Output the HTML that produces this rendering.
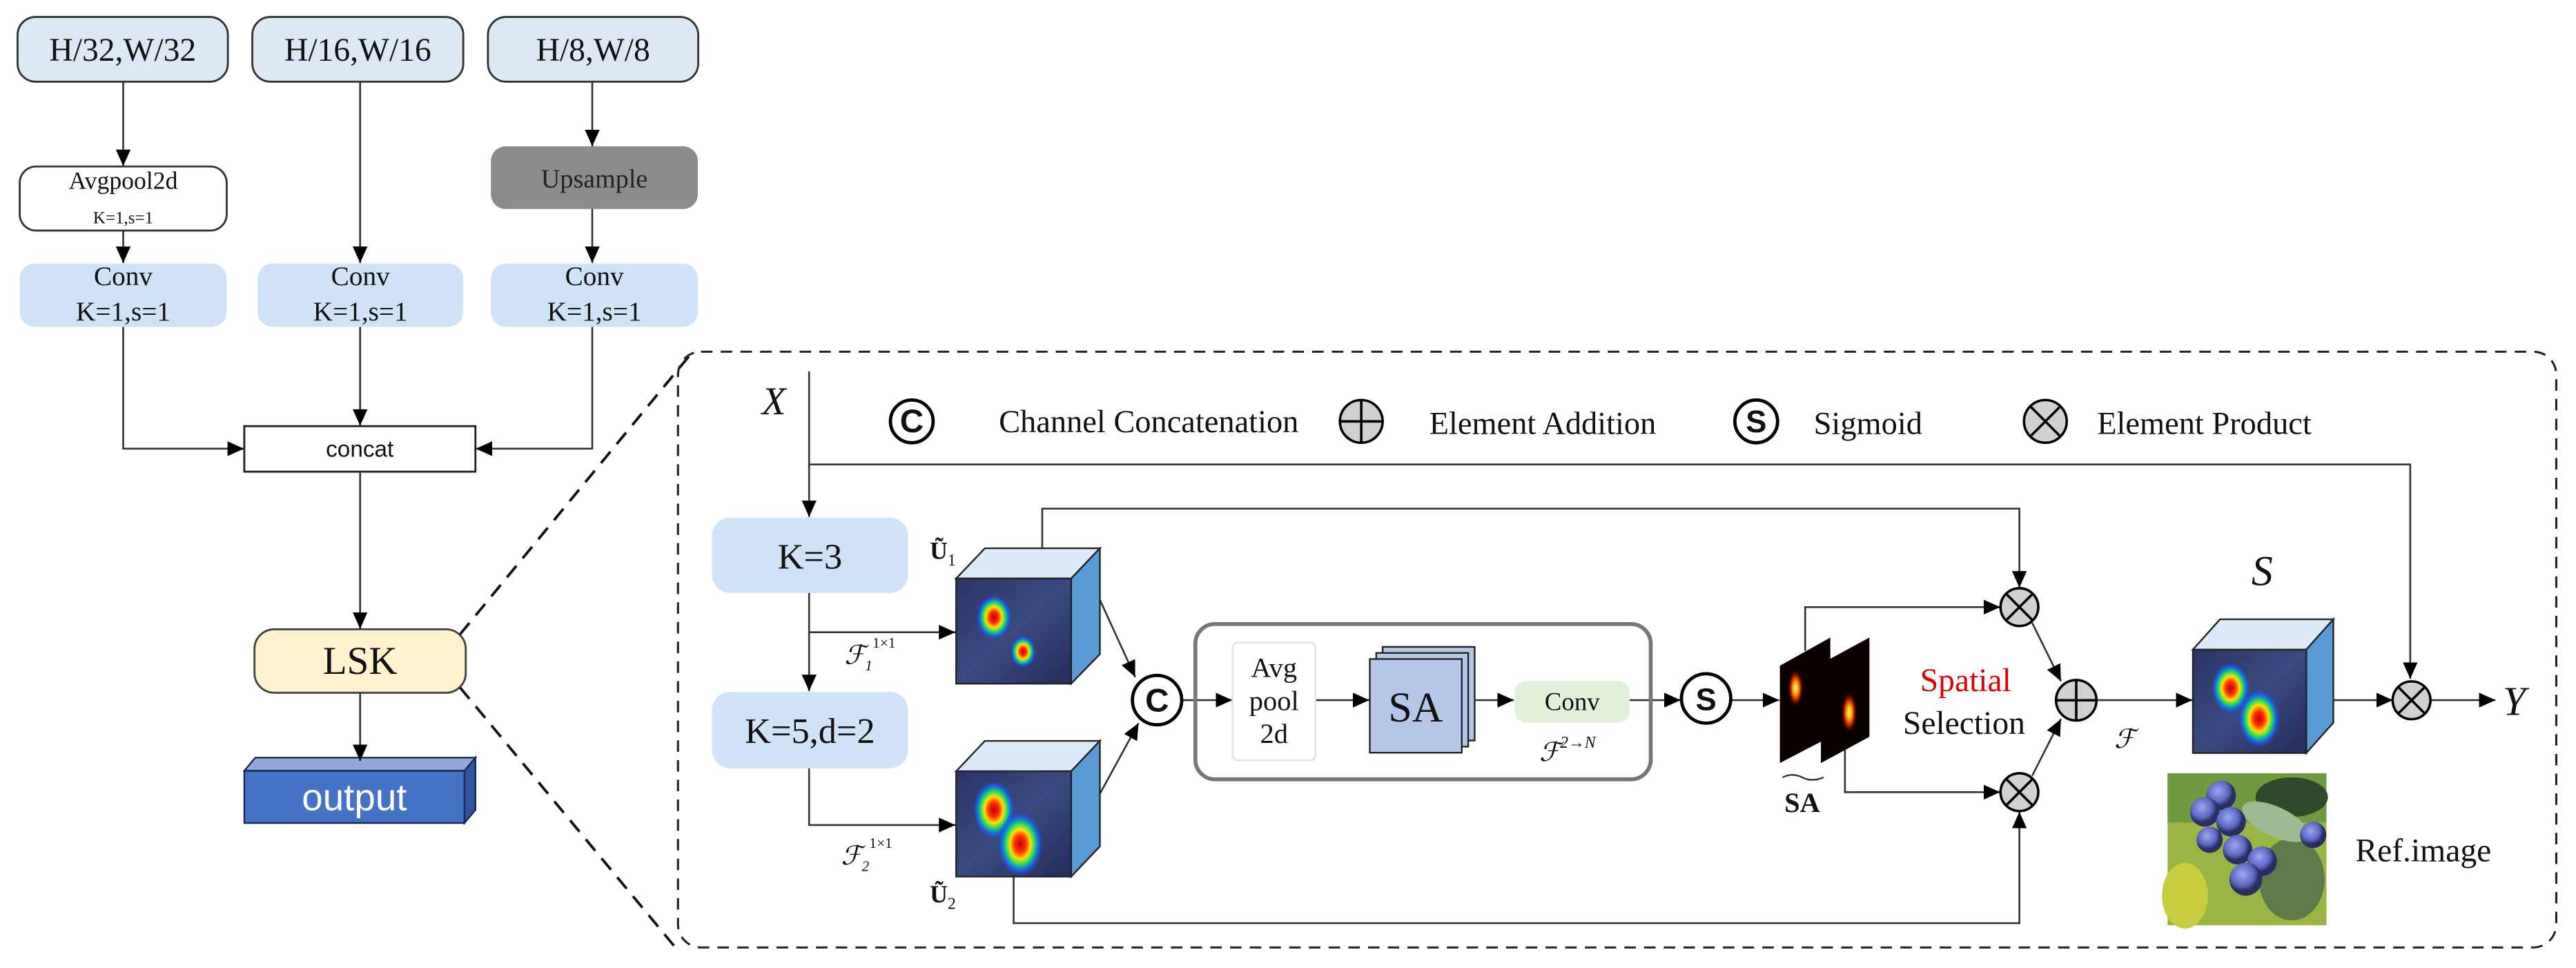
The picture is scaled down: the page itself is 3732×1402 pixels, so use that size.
<!DOCTYPE html>
<html><head><meta charset="utf-8"><style>
html,body{margin:0;padding:0;background:#fff;}
svg{display:block;}
svg text{font-family:"Liberation Serif",serif;fill:#111;}
svg text.sans{font-family:"Liberation Sans",sans-serif;}
</style></head><body>
<svg xmlns="http://www.w3.org/2000/svg" width="3732" height="1402" viewBox="0 0 1568 589" preserveAspectRatio="none" font-family="Liberation Serif, serif">
<defs>
<marker id="ar" markerUnits="userSpaceOnUse" markerWidth="11" markerHeight="10" refX="10" refY="4.5" orient="auto">
<path d="M0,0 L10,4.5 L0,9 z" fill="#000"/></marker>
<radialGradient id="heat">
<stop offset="0" stop-color="#c00000"/><stop offset="0.25" stop-color="#ff3000"/>
<stop offset="0.45" stop-color="#ffe000"/><stop offset="0.62" stop-color="#20e060"/>
<stop offset="0.8" stop-color="#1070ff" stop-opacity="0.8"/><stop offset="1" stop-color="#2040c0" stop-opacity="0"/>
</radialGradient>
<radialGradient id="glow">
<stop offset="0" stop-color="#fff8b0"/><stop offset="0.3" stop-color="#ffb000"/>
<stop offset="0.6" stop-color="#c02000"/><stop offset="1" stop-color="#000" stop-opacity="0"/>
</radialGradient>
<linearGradient id="bg" x1="0" y1="0" x2="1" y2="1">
<stop offset="0" stop-color="#2b3468"/><stop offset="0.5" stop-color="#3a4a7e"/><stop offset="1" stop-color="#252d5c"/>
</linearGradient>
<radialGradient id="berry" cx="0.4" cy="0.35">
<stop offset="0" stop-color="#9aa8f0"/><stop offset="0.7" stop-color="#5b68c0"/><stop offset="1" stop-color="#2a2f60"/>
</radialGradient>
</defs>

<!-- LEFT COLUMN -->
<g stroke="#333" stroke-width="1.2">
<rect x="10.7" y="10.3" width="128" height="39.4" rx="11" fill="#dde8f5"/>
<rect x="153.6" y="10.3" width="128.4" height="39.4" rx="11" fill="#dde8f5"/>
<rect x="297" y="10.3" width="128" height="39.4" rx="11" fill="#dde8f5"/>
<rect x="12" y="101.3" width="126" height="39" rx="10" fill="#fff"/>
</g>
<rect x="298.8" y="89" width="126" height="38.2" rx="9" fill="#8c8c8c"/>
<rect x="12" y="160.4" width="126" height="38.5" rx="9" fill="#cfe2f7"/>
<rect x="156.8" y="160.4" width="125.2" height="38.5" rx="9" fill="#cfe2f7"/>
<rect x="298.8" y="160.4" width="126" height="38.5" rx="9" fill="#cfe2f7"/>
<rect x="148.7" y="259.3" width="140.7" height="27.7" fill="#fff" stroke="#222" stroke-width="1.2"/>
<rect x="154.9" y="382.9" width="128.6" height="38.6" rx="12" fill="#fff2cc" stroke="#444" stroke-width="1.2"/>
<polygon points="148.7,469 155.4,461 289.4,461 282.7,469" fill="#8fa9dc" stroke="#1a2a50" stroke-width="1"/>
<polygon points="282.7,469 289.4,461 289.4,492.8 282.7,500.8" fill="#2f55a0" stroke="#1a2a50" stroke-width="1"/>
<rect x="148.7" y="469" width="134" height="31.8" fill="#4472c4" stroke="#1a2a50" stroke-width="1"/>

<g font-size="20" text-anchor="middle" font-family="Liberation Serif, serif">
<text x="74.7" y="37">H/32,W/32</text>
<text x="217.8" y="37">H/16,W/16</text>
<text x="361" y="37">H/8,W/8</text>
<text x="75" y="115" font-size="15">Avgpool2d</text>
<text x="75" y="136" font-size="10.5">K=1,s=1</text>
<text x="361.8" y="114" font-size="16" style="fill:#222">Upsample</text>
<text x="75" y="173.5" font-size="16.5">Conv</text><text x="75" y="195" font-size="16.5">K=1,s=1</text>
<text x="219.4" y="173.5" font-size="16.5">Conv</text><text x="219.4" y="195" font-size="16.5">K=1,s=1</text>
<text x="361.8" y="173.5" font-size="16.5">Conv</text><text x="361.8" y="195" font-size="16.5">K=1,s=1</text>
<text x="219.2" y="410" font-size="24">LSK</text>
</g>
<text x="219" y="278" font-size="14" text-anchor="middle" class="sans" font-family="Liberation Sans, sans-serif">concat</text>
<text x="215.7" y="493" font-size="23" text-anchor="middle" class="sans" font-family="Liberation Sans, sans-serif" style="fill:#fff">output</text>

<g stroke="#333" stroke-width="1.1" fill="none" marker-end="url(#ar)">
<line x1="75" y1="49.7" x2="75" y2="101"/>
<line x1="219.2" y1="49.7" x2="219.2" y2="160"/>
<line x1="360.5" y1="49.7" x2="360.5" y2="89"/>
<line x1="75" y1="140.3" x2="75" y2="160"/>
<line x1="360.5" y1="127.2" x2="360.5" y2="160"/>
<polyline points="75,198.9 75,273 148.5,273"/>
<polyline points="360.5,198.9 360.5,273 289.6,273"/>
<line x1="219.2" y1="198.9" x2="219.2" y2="259"/>
<line x1="219.2" y1="287" x2="219.2" y2="382.6"/>
<line x1="219.2" y1="421.5" x2="219.2" y2="463"/>
</g>
<g stroke="#111" stroke-width="1.6" stroke-dasharray="9,6" fill="none">
<line x1="280" y1="386" x2="420" y2="216"/>
<line x1="280" y1="418.3" x2="414" y2="580"/>
</g>

<rect x="412.7" y="214" width="1143.3" height="362.5" rx="14" fill="none" stroke="#222" stroke-width="1.3" stroke-dasharray="7,5"/>

<!-- legend -->
<g stroke="#000" stroke-width="2">
<circle cx="555" cy="256.4" r="13" fill="#fff"/>
<circle cx="828.6" cy="256.4" r="13" fill="#d0d0d0" stroke-width="1.5"/>
<circle cx="1069" cy="256.4" r="13" fill="#fff"/>
<circle cx="1245" cy="256.4" r="13" fill="#d0d0d0" stroke-width="1.5"/>
<line x1="815.6" y1="256.4" x2="841.6" y2="256.4" stroke-width="1.5"/>
<line x1="828.6" y1="243.4" x2="828.6" y2="269.4" stroke-width="1.5"/>
<line x1="1235.8" y1="247.2" x2="1254.2" y2="265.6" stroke-width="1.5"/>
<line x1="1254.2" y1="247.2" x2="1235.8" y2="265.6" stroke-width="1.5"/>
</g>
<g font-family="Liberation Sans, sans-serif" font-weight="bold" text-anchor="middle">
<text x="555" y="263" font-size="20" class="sans">C</text>
<text x="1069" y="263" font-size="19" class="sans">S</text>
<text x="704.3" y="433" font-size="20" class="sans">C</text>
<text x="1038.5" y="432" font-size="19" class="sans">S</text>
</g>
<g font-size="19.5" font-family="Liberation Serif, serif">
<text x="608" y="263">Channel Concatenation</text>
<text x="870" y="264">Element Addition</text>
<text x="1104" y="264">Sigmoid</text>
<text x="1276.5" y="264">Element Product</text>
<text x="471" y="252" font-size="24" font-style="italic" text-anchor="middle">X</text>
<text x="493" y="346" font-size="22" text-anchor="middle">K=3</text>
<text x="493" y="452" font-size="22" text-anchor="middle">K=5,d=2</text>
</g>

<rect x="433.4" y="315" width="119.3" height="45.8" rx="11" fill="#cfe2f7"/>
<rect x="433.4" y="421" width="119.3" height="46.5" rx="11" fill="#cfe2f7"/>
<g font-size="22" text-anchor="middle" font-family="Liberation Serif, serif">
<text x="493" y="346">K=3</text>
<text x="493" y="452">K=5,d=2</text>
</g>

<g stroke="#333" stroke-width="1.1" fill="none">
<polyline points="492.5,226 492.5,282.6 1467.1,282.6 1467.1,413" marker-end="url(#ar)"/>
<line x1="492.5" y1="282.6" x2="492.5" y2="314.5" marker-end="url(#ar)"/>
<line x1="492.5" y1="360.8" x2="492.5" y2="420.5" marker-end="url(#ar)"/>
<polyline points="492.5,384.7 581.5,384.7" marker-end="url(#ar)"/>
<polyline points="492.5,467.5 492.5,502 581.5,502" marker-end="url(#ar)"/>
<polyline points="634.4,334 634.4,309.5 1229.2,309.5 1229.2,357.5" marker-end="url(#ar)"/>
<polyline points="617,533.4 617,561.7 1229.2,561.7 1229.2,494" marker-end="url(#ar)"/>
<line x1="669.5" y1="365" x2="691" y2="412" marker-end="url(#ar)"/>
<line x1="669.5" y1="483" x2="693" y2="440" marker-end="url(#ar)"/>
<line x1="719.5" y1="426" x2="750" y2="426" marker-end="url(#ar)"/>
<line x1="800.7" y1="426" x2="833.5" y2="426" marker-end="url(#ar)"/>
<line x1="897.5" y1="426" x2="921.5" y2="426" marker-end="url(#ar)"/>
<line x1="992" y1="426" x2="1023" y2="426" marker-end="url(#ar)"/>
<line x1="1054" y1="426" x2="1083" y2="426" marker-end="url(#ar)"/>
<polyline points="1098.8,396 1098.8,369.4 1217.5,369.4" marker-end="url(#ar)"/>
<polyline points="1123,450 1123,482 1217.5,482" marker-end="url(#ar)"/>
<line x1="1237" y1="379" x2="1254.5" y2="414.5" marker-end="url(#ar)"/>
<line x1="1237" y1="472" x2="1254.5" y2="437.5" marker-end="url(#ar)"/>
<line x1="1276.4" y1="426" x2="1334.5" y2="426" marker-end="url(#ar)"/>
<line x1="1420.3" y1="426" x2="1456.5" y2="426" marker-end="url(#ar)"/>
<line x1="1479.4" y1="426" x2="1519" y2="426" marker-end="url(#ar)"/>
</g>

<g stroke="#222" stroke-width="1">
<polygon points="582,352 599.5,333.6 669.5,333.6 652,352" fill="#dbe9f8"/>
<polygon points="652,352 669.5,333.6 669.5,398 652,416" fill="#5b9bd5"/>
<rect x="582" y="352" width="70" height="64" fill="url(#bg)"/>
<polygon points="582,469.3 599.5,450.8 669.5,450.8 652,469.3" fill="#dbe9f8"/>
<polygon points="652,469.3 669.5,450.8 669.5,515 652,533.4" fill="#5b9bd5"/>
<rect x="582" y="469.3" width="70" height="64.1" fill="url(#bg)"/>
<polygon points="1334.8,395.3 1351.3,376.8 1420.3,376.8 1403.8,395.3" fill="#dbe9f8"/>
<polygon points="1403.8,395.3 1420.3,376.8 1420.3,439.7 1403.8,458.2" fill="#5b9bd5"/>
<rect x="1334.8" y="395.3" width="69" height="62.9" fill="url(#bg)"/>
</g>
<ellipse cx="605" cy="375.6" rx="11" ry="14" fill="url(#heat)"/>
<ellipse cx="622.7" cy="396.5" rx="8" ry="10" fill="url(#heat)"/>
<ellipse cx="605" cy="492.7" rx="13" ry="18" fill="url(#heat)"/>
<ellipse cx="621" cy="513.6" rx="14" ry="20" fill="url(#heat)"/>
<ellipse cx="1357.8" cy="418.7" rx="12" ry="16" fill="url(#heat)"/>
<ellipse cx="1375" cy="437.2" rx="13" ry="18" fill="url(#heat)"/>

<g font-size="15" font-weight="bold" font-family="Liberation Serif, serif">
<text x="566" y="340">Ũ<tspan font-size="10" font-weight="normal" dy="4">1</tspan></text>
<text x="566" y="549">Ũ<tspan font-size="10" font-weight="normal" dy="4">2</tspan></text>
</g>
<g font-size="16" font-style="italic" font-family="Liberation Serif, DejaVu Serif, serif">
<text x="514" y="404">ℱ<tspan font-size="9" dy="4">1</tspan><tspan font-size="9" dy="-14" font-style="normal">1×1</tspan></text>
<text x="512" y="526">ℱ<tspan font-size="9" dy="4">2</tspan><tspan font-size="9" dy="-14" font-style="normal">1×1</tspan></text>
<text x="937" y="463">ℱ<tspan font-size="10" dy="-8">2→N</tspan></text>
<text x="1287" y="455">ℱ</text>
</g>

<rect x="727.6" y="379.7" width="277.2" height="94.5" rx="12" fill="none" stroke="#777" stroke-width="2.4"/>
<rect x="750.2" y="391" width="50.5" height="71.6" rx="3" fill="#fff" stroke="#e0e0e0" stroke-width="1"/>
<g stroke="#222" stroke-width="1" fill="#b4c7e7">
<rect x="841.6" y="393.6" width="56" height="57" />
<rect x="837.7" y="397.3" width="56" height="57" />
<rect x="833.8" y="401" width="56" height="57" />
</g>
<rect x="922" y="414.3" width="70" height="25.4" rx="7" fill="#e2efd9"/>
<g text-anchor="middle" font-family="Liberation Serif, serif">
<text x="775.5" y="412" font-size="17">Avg</text><text x="775.5" y="432" font-size="17">pool</text><text x="775.5" y="452" font-size="17">2d</text>
<text x="861.7" y="439" font-size="26">SA</text>
<text x="957" y="432" font-size="15.5">Conv</text>
</g>

<circle cx="1038.5" cy="425" r="15" fill="none" stroke="#000" stroke-width="2"/>
<circle cx="704.3" cy="426" r="15" fill="none" stroke="#000" stroke-width="2"/>

<polygon points="1083.4,405.1 1114.1,387.9 1114.1,448.3 1083.4,464.3" fill="#0a0000"/>
<ellipse cx="1093" cy="418.7" rx="5" ry="12" fill="url(#glow)"/>
<polygon points="1108.4,403.9 1137.9,387.9 1137.9,448.3 1108.4,464.3" fill="#0a0000"/>
<ellipse cx="1125.6" cy="433.5" rx="5" ry="13" fill="url(#glow)"/>
<path d="M1085,473 q6,-3 12,0 q6,3 13,0" stroke="#333" fill="none" stroke-width="1"/>

<g stroke="#000" stroke-width="1.5">
<circle cx="1229.2" cy="369.4" r="11.5" fill="#d0d0d0"/>
<line x1="1221.1" y1="361.3" x2="1237.3" y2="377.5"/><line x1="1237.3" y1="361.3" x2="1221.1" y2="377.5"/>
<circle cx="1229.2" cy="482" r="11.5" fill="#d0d0d0"/>
<line x1="1221.1" y1="473.9" x2="1237.3" y2="490.1"/><line x1="1237.3" y1="473.9" x2="1221.1" y2="490.1"/>
<circle cx="1467.9" cy="426.1" r="11.5" fill="#d0d0d0"/>
<line x1="1459.8" y1="418" x2="1476" y2="434.2"/><line x1="1476" y1="418" x2="1459.8" y2="434.2"/>
<circle cx="1263.8" cy="426.1" r="12.3" fill="#d0d0d0"/>
<line x1="1251.5" y1="426.1" x2="1276.1" y2="426.1"/><line x1="1263.8" y1="413.8" x2="1263.8" y2="438.4"/>
</g>

<g font-family="Liberation Serif, serif">
<text x="1097" y="494" font-size="17" font-weight="bold" text-anchor="middle">SA</text>
<text x="1196.5" y="420.5" font-size="20" text-anchor="middle" style="fill:#e00000">Spatial</text>
<text x="1195.5" y="446.5" font-size="20" text-anchor="middle">Selection</text>
<text x="1377" y="356" font-size="26" font-style="italic" text-anchor="middle">S</text>
<text x="1530.4" y="435" font-size="25" font-style="italic" text-anchor="middle">Y</text>
<text x="1433.7" y="524" font-size="20">Ref.image</text>
</g>

<rect x="1319.4" y="470.5" width="96.7" height="92.5" fill="#9bb545"/>
<rect x="1319.4" y="470.5" width="96.7" height="30" fill="#6f9a40"/>
<ellipse cx="1395" cy="485" rx="22" ry="12" fill="#2f4a2a"/>
<ellipse cx="1330" cy="545" rx="14" ry="20" fill="#c8cc40"/>
<ellipse cx="1395" cy="535" rx="20" ry="25" fill="#5d7a4a"/>
<ellipse cx="1385" cy="500" rx="22" ry="9" fill="#9bbb90" transform="rotate(25 1385 500)"/>
<g>
<circle cx="1352" cy="484" r="9" fill="url(#berry)"/>
<circle cx="1342" cy="494" r="9" fill="url(#berry)"/>
<circle cx="1358" cy="500" r="9" fill="url(#berry)"/>
<circle cx="1345" cy="511" r="8" fill="url(#berry)"/>
<circle cx="1362" cy="517" r="9" fill="url(#berry)"/>
<circle cx="1377" cy="524" r="9" fill="url(#berry)"/>
<circle cx="1367" cy="535" r="10" fill="url(#berry)"/>
<circle cx="1408" cy="508" r="8" fill="url(#berry)"/>
</g>
</svg>
</body></html>
